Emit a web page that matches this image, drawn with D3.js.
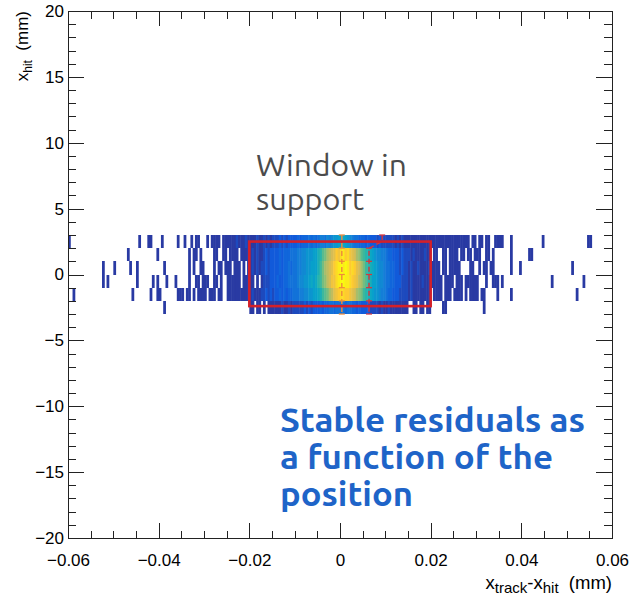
<!DOCTYPE html>
<html>
<head>
<meta charset="utf-8">
<script src="https://cdn.jsdelivr.net/npm/d3@7"></script>
<style>
  html, body { margin: 0; padding: 0; background: #fff; }
  svg text { white-space: pre; }
</style>
</head>
<body>
<svg id="chart" width="630" height="598"></svg>
<script>
// ---- axes ----
const xDomain = [-0.06, 0.06];
const yDomain = [-20, 20];
const xMajorTicks = [-0.06, -0.04, -0.02, 0, 0.02, 0.04, 0.06];
const xTickLabels = ["\u22120.06", "\u22120.04", "\u22120.02", "0", "0.02", "0.04", "0.06"];
const yMajorTicks = [-20, -15, -10, -5, 0, 5, 10, 15, 20];
const yTickLabels = ["\u221220", "\u221215", "\u221210", "\u22125", "0", "5", "10", "15", "20"];

// ---- 2D histogram: x_track - x_hit (bins of 0.0005 mm from -0.06) vs x_hit (1 mm rows) ----
const binWidth = 0.0005;
const binStart = -0.06;
const rowLowEdges = [2, 1, 0, -1, -2, -3];
// one character per bin: '.' = empty, 1-9 then a=10 ... p=25 entries
const countsRow2to3 =
  "1......... .......... .......... .1...11... .1......1. .1..1.11.. .1.1111.11 1111211121 " +
  "1112112121 2223232333 3434445454 5665767889 9a98765544 4343332322 2222121211 1111111111 " +
  "1111111111 1111111.11 .11.11..11 11...1.... .........1 .......... .........1 1.........";
const countsRow1to2 =
  ".......... .......... ......1... .........1 .......... ...1.11.1. ....11..11 .1111.1111 " +
  "1212112323 3334344455 5667788899 bcefhijkml nomnlkjhge dcba987766 5443332322 2121111211 " +
  ".11..11.11 11.11.11.1 11..11.1.. .....1.... ...11..... .......... .......... ..........";
const countsRow0to1 =
  ".......... .....1.... 1......1.. 1......... ..1....... ...1.1..11 ....1.11.1 11.111.1.1 " +
  "1212122323 3334344545 5667788999 bdfhijkmno popomnmkjh fdcba98776 5544332322 1211211112 " +
  "1111.11.11 111....11. .1.11.11.. .....1...1 .......... .......... ..1....... ..........";
const countsRowM1to0 =
  ".......... .....1.1.. .......... 1......1.1 ...1...1.. ...1..11.1 11..11.1.. 111111.111 " +
  "11.1.12223 3343344555 5677889a9a cdfgijllno ppoonmlkih fecb998776 5544333222 1211112111 " +
  "11111.1111 .111.11111 1...1..111 .1........ .......... ...1...... .......1.. ..........";
const countsRowM2toM1 =
  "..1....... .......... ........1. ......1..1 1.......11 1.11.1.111 1.111.11.. 1111111111 " +
  "1211122323 2334343445 5566778899 abdefhiklm nnmmlkjhgf dcba988766 5443332222 1211111111 " +
  ".1111.111. 1111.1.111 1.11.....1 .....1.... .......... .......... ....1..... ..........";
const countsRowM3toM2 =
  ".......... .......... .......... .......... ..1....... .......... .......... .......... " +
  "11.11.1.11 1111211212 2222323233 3434455455 5545544343 3332222121 1211111111 ..11.11.11 " +
  ".....11... .......... ...1...... .......... .......... .......... .......... ..........";
const rowCounts = [countsRow2to3, countsRow1to2, countsRow0to1,
                   countsRowM1to0, countsRowM2toM1, countsRowM3toM2];
const zMax = 25;

// ---- overlays ----
const windowX = [-0.02, 0.02];
const windowY = [-2.4, 2.5];
const meanLineX = [0.0004, 0.0004];
const meanLineY = [3, -3];
const shiftLineX = [0.0093, 0.0093, 0.0064, 0.0064];
const shiftLineY = [3, 2.5, 2, -3];
const capY = [3, 2, 1, 0, -1, -2, -3];

// ---- layout ----
const svg = d3.select("#chart");
const x = d3.scaleLinear().domain(xDomain).range([68, 612]);
const y = d3.scaleLinear().domain(yDomain).range([538, 11]);

// ROOT "bird" palette
const birdStops = ["#352a87", "#0f5cdd", "#1481d6", "#06a4ca", "#2eb7a4",
                   "#87bf77", "#d1bb59", "#fec832", "#f9fb0e"];
const color = d3.scaleLinear()
  .domain(birdStops.map((_, i) => i / (birdStops.length - 1) * zMax))
  .range(birdStops)
  .interpolate(d3.interpolateRgb)
  .clamp(true);

const cells = [];
rowCounts.forEach((s, r) => {
  const chars = s.replace(/ /g, "").split("");
  chars.forEach((ch, i) => {
    if (ch === ".") return;
    cells.push({
      x0: binStart + i * binWidth,
      x1: binStart + (i + 1) * binWidth,
      y0: rowLowEdges[r],
      y1: rowLowEdges[r] + 1,
      n: parseInt(ch, 36)
    });
  });
});

// rows snapped to whole pixels vertically; each bin widened a touch so
// neighbouring bins close up without anti-aliasing seams
const seam = 0.5;
svg.append("g").attr("class", "cells")
  .selectAll("rect").data(cells).join("rect")
  .attr("x", d => x(d.x0))
  .attr("width", d => x(d.x1) - x(d.x0) + seam)
  .attr("y", d => Math.round(y(d.y1)))
  .attr("height", d => Math.round(y(d.y0)) - Math.round(y(d.y1)))
  .attr("fill", d => color(d.n));

// dashed profile lines
const line = d3.line().x(d => x(d[0])).y(d => y(d[1]));
function profile(xs, ys, stroke) {
  const pts = xs.map((v, i) => [v, ys[i]]);
  svg.append("path").attr("d", line(pts))
    .attr("fill", "none").attr("stroke", stroke)
    .attr("stroke-width", 1.4).attr("stroke-dasharray", "5,3");
  const xAt = yy => {
    for (let i = 0; i < ys.length - 1; i++) {
      const a = ys[i], b = ys[i + 1];
      if (yy <= a && yy >= b) return xs[i] + (xs[i + 1] - xs[i]) * (a === b ? 0 : (a - yy) / (a - b));
    }
    return xs[xs.length - 1];
  };
  svg.append("g").selectAll("line").data(capY).join("line")
    .attr("x1", d => x(xAt(d)) - 3).attr("x2", d => x(xAt(d)) + 3)
    .attr("y1", d => y(d)).attr("y2", d => y(d))
    .attr("stroke", stroke).attr("stroke-width", 1.2);
}
profile(meanLineX, meanLineY, "#ee8a3a");
profile(shiftLineX, shiftLineY, "#d8343a");

// selection window
svg.append("rect")
  .attr("x", x(windowX[0])).attr("y", y(windowY[1]))
  .attr("width", x(windowX[1]) - x(windowX[0]))
  .attr("height", y(windowY[0]) - y(windowY[1]))
  .attr("fill", "none").attr("stroke", "#d42029").attr("stroke-width", 2.6);

// ---- axes ----
const axisFont = "'Liberation Sans', Arial, Helvetica, sans-serif";
function tidy(g) {
  g.select(".domain").remove();
  g.selectAll("line").attr("stroke", "#222").attr("shape-rendering", "crispEdges");
  g.selectAll("text").attr("font-family", axisFont).attr("font-size", 17).attr("fill", "#000");
}
const xMinor = x.ticks(24);
const yMinor = y.ticks(40);

svg.append("g").attr("transform", "translate(68,0)")
  .call(d3.axisLeft(y).tickValues(yMinor).tickSize(-8).tickFormat("")).call(tidy);
svg.append("g").attr("transform", "translate(68,0)")
  .call(d3.axisLeft(y).tickValues(yMajorTicks).tickSize(-16).tickPadding(4)
    .tickFormat(d => yTickLabels[yMajorTicks.indexOf(d)])).call(tidy);
svg.append("g").attr("transform", "translate(612,0)")
  .call(d3.axisRight(y).tickValues(yMinor).tickSize(-8).tickFormat("")).call(tidy);
svg.append("g").attr("transform", "translate(612,0)")
  .call(d3.axisRight(y).tickValues(yMajorTicks).tickSize(-16).tickFormat("")).call(tidy);

svg.append("g").attr("transform", "translate(0,538)")
  .call(d3.axisBottom(x).tickValues(xMinor).tickSize(-7.5).tickFormat("")).call(tidy);
svg.append("g").attr("transform", "translate(0,538)")
  .call(d3.axisBottom(x).tickValues(xMajorTicks).tickSize(-15).tickPadding(16)
    .tickFormat(d => xTickLabels[xMajorTicks.indexOf(d)])).call(tidy);
svg.append("g").attr("transform", "translate(0,11)")
  .call(d3.axisTop(x).tickValues(xMinor).tickSize(-7.5).tickFormat("")).call(tidy);
svg.append("g").attr("transform", "translate(0,11)")
  .call(d3.axisTop(x).tickValues(xMajorTicks).tickSize(-15).tickFormat("")).call(tidy);

// frame
svg.append("rect").attr("x", 68).attr("y", 11).attr("width", 544).attr("height", 527)
  .attr("fill", "none").attr("stroke", "#222").attr("stroke-width", 1)
  .attr("shape-rendering", "crispEdges");

// axis titles
const xt = svg.append("text").attr("x", 612).attr("y", 589).attr("text-anchor", "end")
  .attr("font-family", axisFont).attr("font-size", 18.5).attr("fill", "#000");
xt.append("tspan").text("x");
xt.append("tspan").attr("font-size", 15).attr("dy", 4).text("track");
xt.append("tspan").attr("dy", -4).text("-x");
xt.append("tspan").attr("font-size", 15).attr("dy", 4).text("hit");
xt.append("tspan").attr("dy", -4).text("  (mm)");

const yt = svg.append("text").attr("transform", "translate(28,11) rotate(-90)")
  .attr("text-anchor", "end")
  .attr("font-family", axisFont).attr("font-size", 17).attr("fill", "#000");
yt.append("tspan").text("x");
yt.append("tspan").attr("font-size", 12).attr("dy", 4).text("hit");
yt.append("tspan").attr("dy", -4).text("  (mm)");

// annotations
const noteFont = "Ubuntu, 'Open Sans', 'Noto Sans', sans-serif";
const gray = svg.append("g").attr("font-family", noteFont).attr("font-size", 29).attr("fill", "#4b4b4b");
gray.append("text").attr("x", 256).attr("y", 176).attr("textLength", 151)
  .attr("lengthAdjust", "spacingAndGlyphs").text("Window in");
gray.append("text").attr("x", 256).attr("y", 210).attr("textLength", 108)
  .attr("lengthAdjust", "spacingAndGlyphs").text("support");

const blue = svg.append("g").attr("font-family", noteFont).attr("font-size", 33)
  .attr("font-weight", "bold").attr("fill", "#1e64c8");
blue.append("text").attr("x", 280).attr("y", 431.5).attr("textLength", 305)
  .attr("lengthAdjust", "spacingAndGlyphs").text("Stable residuals as");
blue.append("text").attr("x", 280).attr("y", 468.5).attr("textLength", 273)
  .attr("lengthAdjust", "spacingAndGlyphs").text("a function of the");
blue.append("text").attr("x", 280).attr("y", 505.5).attr("textLength", 133)
  .attr("lengthAdjust", "spacingAndGlyphs").text("position");
</script>
</body>
</html>
